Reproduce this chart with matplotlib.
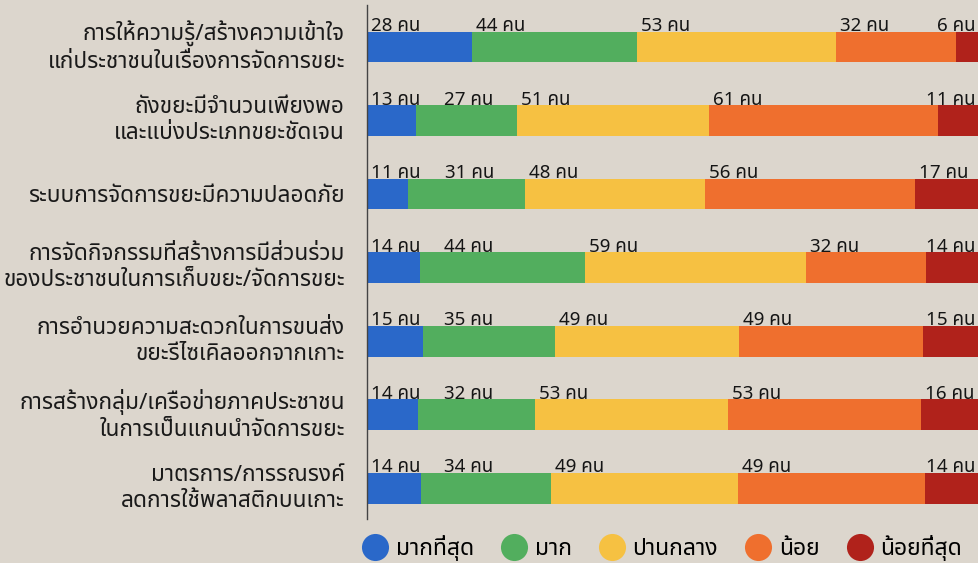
import matplotlib
matplotlib.use("Agg")
import matplotlib.pyplot as plt
import matplotlib.transforms as mtransforms
from matplotlib.lines import Line2D

plt.rcParams['font.family'] = ['Noto Sans Thai', 'DejaVu Sans']

categories = [
    "การให้ความรู้/สร้างความเข้าใจ\nแก่ประชาชนในเรื่องการจัดการขยะ",
    "ถังขยะมีจำนวนเพียงพอ\nและแบ่งประเภทขยะชัดเจน",
    "ระบบการจัดการขยะมีความปลอดภัย",
    "การจัดกิจกรรมที่สร้างการมีส่วนร่วม\nของประชาชนในการเก็บขยะ/จัดการขยะ",
    "การอำนวยความสะดวกในการขนส่ง\nขยะรีไซเคิลออกจากเกาะ",
    "การสร้างกลุ่ม/เครือข่ายภาคประชาชน\nในการเป็นแกนนำจัดการขยะ",
    "มาตรการ/การรณรงค์\nลดการใช้พลาสติกบนเกาะ",
]
levels = ["มากที่สุด", "มาก", "ปานกลาง", "น้อย", "น้อยที่สุด"]
most = [28, 13, 11, 14, 15, 14, 14]
much = [44, 27, 31, 44, 35, 32, 34]
medium = [53, 51, 48, 59, 49, 53, 49]
little = [32, 61, 56, 32, 49, 53, 49]
least = [6, 11, 17, 14, 15, 16, 14]
colors = ["#2a68c9", "#52ae5e", "#f6c142", "#ef6f2e", "#b0221b"]

series = [most, much, medium, little, least]
bg = "#dcd6cd"

fig = plt.figure(figsize=(9.79, 5.63), dpi=100, facecolor=bg)
ax = fig.add_axes([367 / 979, 1 - 519 / 563, 1 - 367 / 979, 514 / 563])
ax.set_facecolor(bg)

totals = [sum(s[i] for s in series) for i in range(len(categories))]
left = [0.0] * len(categories)
ypos = list(range(len(categories)))
labels = {y: [] for y in ypos}
for vals, col in zip(series, colors):
    frac = [v / t for v, t in zip(vals, totals)]
    ax.barh(ypos, frac, left=left, height=0.42, color=col, edgecolor='none')
    for y, l, v in zip(ypos, left, vals):
        t = ax.text(l, y - 0.215, f"{v} คน", ha='left', va='baseline',
                    fontsize=13.5, color='#151515', fontweight='semibold')
        labels[y].append((l, t))
    left = [a + b for a, b in zip(left, frac)]

ax.set_xlim(0, 1)
ax.set_ylim(6.42, -0.571)
ax.set_yticks(ypos)
ax.set_yticklabels(categories, fontsize=16.3, color='#1a1a1a', linespacing=1.3)
ax.tick_params(axis='y', length=0, pad=16)
ax.set_xticks([])
# two-line labels sit a little low with this font, lift them
lift = mtransforms.ScaledTranslation(0, 3.5 / 72, fig.dpi_scale_trans)
for lab in ax.get_yticklabels():
    if "\n" in lab.get_text():
        lab.set_transform(lab.get_transform() + lift)
for side in ['top', 'right', 'bottom']:
    ax.spines[side].set_visible(False)
ax.spines['left'].set_color('#444444')
ax.spines['left'].set_linewidth(1.0)

handles = [Line2D([], [], marker='o', linestyle='none', markersize=19.5,
                  markerfacecolor=c, markeredgecolor='none') for c in colors]
fig.legend(handles, levels, loc='center', bbox_to_anchor=(0.676, 1 - 548 / 563),
           ncol=5, frameon=False, fontsize=16.5, handletextpad=0.3,
           columnspacing=1.15, handlelength=1.2)

# keep the count labels from overlapping and inside the figure
fig.canvas.draw()
renderer = fig.canvas.get_renderer()
to_px = ax.transData
to_data = ax.transData.inverted()
right_px = fig.bbox.width - 3
for y in ypos:
    prev_end = None
    for l, t in labels[y]:
        w = t.get_window_extent(renderer).width
        x0 = to_px.transform((l, y))[0] + 4
        if prev_end is not None:
            x0 = max(x0, prev_end + 24)
        x0 = min(x0, right_px - w)
        t.set_x(to_data.transform((x0, 0))[0])
        prev_end = x0 + w

fig.savefig("out.png", facecolor=bg)
